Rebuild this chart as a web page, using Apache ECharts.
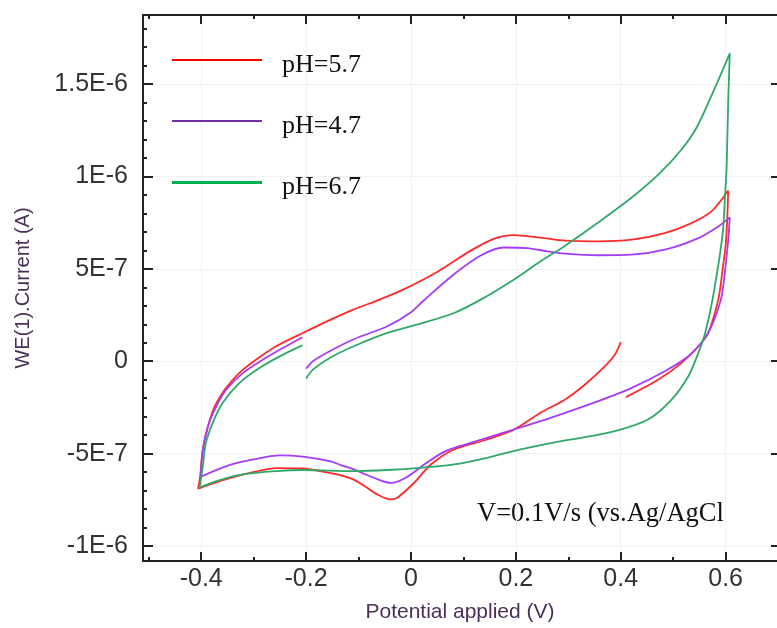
<!DOCTYPE html>
<html>
<head>
<meta charset="utf-8">
<script src="https://cdn.jsdelivr.net/npm/echarts@6/dist/echarts.min.js"></script>
<style>html,body{margin:0;padding:0;background:#fff}#c{width:777px;height:628px}</style>
</head>
<body>
<div id="c"></div>
<script>
// ---- data (potential in V, current in microampere = 1E-6 A) ----
const seriesNames = ['pH=5.7', 'pH=4.7', 'pH=6.7'];

const ph57_V = [0.400, 0.389, 0.370, 0.332, 0.294, 0.247, 0.196, 0.145, 0.082, 0.038, 0.006, -0.026, -0.039, -0.064, -0.090, -0.109, -0.135, -0.155, -0.206, -0.257, -0.301, -0.352, -0.406,
  -0.402, -0.397, -0.387, -0.374, -0.355, -0.327, -0.295, -0.257, -0.206, -0.155, -0.109, -0.060, -0.013, 0.050, 0.114, 0.158, 0.196, 0.247, 0.294, 0.357, 0.421, 0.484, 0.535, 0.573, 0.605,
  0.601, 0.594, 0.586, 0.567, 0.554, 0.516, 0.472, 0.410];
const ph57_I = [0.103, 0.036, -0.027, -0.126, -0.207, -0.279, -0.370, -0.423, -0.477, -0.558, -0.657, -0.738, -0.747, -0.720, -0.672, -0.640, -0.616, -0.604, -0.580, -0.578, -0.600, -0.638, -0.689,
  -0.621, -0.477, -0.351, -0.243, -0.153, -0.063, 0.009, 0.081, 0.153, 0.222, 0.280, 0.333, 0.390, 0.483, 0.598, 0.662, 0.682, 0.668, 0.652, 0.648, 0.657, 0.693, 0.747, 0.810, 0.923,
  0.657, 0.490, 0.333, 0.153, 0.100, -0.009, -0.099, -0.194];

const ph47_V = [-0.200, -0.187, -0.155, -0.109, -0.045, 0.000, 0.025, 0.082, 0.133, 0.177, 0.222, 0.260, 0.294, 0.357, 0.421, 0.484, 0.548, 0.586, 0.608,
  0.605, 0.597, 0.591, 0.573, 0.554, 0.529, 0.484, 0.421, 0.357, 0.294, 0.247, 0.196, 0.145, 0.093, 0.063, 0.030, -0.010, -0.038, -0.071, -0.109, -0.135, -0.155, -0.206, -0.250, -0.301, -0.352, -0.401,
  -0.397, -0.387, -0.371, -0.352, -0.320, -0.282, -0.244, -0.207];
const ph47_I = [-0.041, 0.000, 0.054, 0.119, 0.189, 0.265, 0.330, 0.470, 0.572, 0.615, 0.612, 0.594, 0.582, 0.573, 0.576, 0.603, 0.666, 0.729, 0.778,
  0.657, 0.441, 0.333, 0.189, 0.100, 0.027, -0.054, -0.144, -0.216, -0.279, -0.324, -0.369, -0.414, -0.459, -0.490, -0.549, -0.630, -0.658, -0.630, -0.585, -0.560, -0.540, -0.516, -0.509, -0.531, -0.567, -0.625,
  -0.480, -0.350, -0.243, -0.153, -0.063, 0.009, 0.072, 0.130];

const ph67_V = [-0.200, -0.187, -0.155, -0.109, -0.045, 0.018, 0.082, 0.133, 0.196, 0.247, 0.294, 0.357, 0.421, 0.472, 0.516, 0.545, 0.576, 0.608,
  0.605, 0.602, 0.599, 0.594, 0.575, 0.561, 0.548, 0.529, 0.497, 0.452, 0.389, 0.325, 0.294, 0.209, 0.145, 0.082, 0.018, -0.045, -0.109, -0.206, -0.257, -0.320, -0.371, -0.403,
  -0.397, -0.391, -0.378, -0.359, -0.327, -0.289, -0.244, -0.207];
const ph67_I = [-0.093, -0.045, 0.018, 0.081, 0.153, 0.203, 0.261, 0.333, 0.441, 0.540, 0.625, 0.750, 0.885, 1.010, 1.145, 1.265, 1.455, 1.665,
  1.413, 1.053, 0.900, 0.680, 0.333, 0.153, 0.045, -0.081, -0.207, -0.315, -0.378, -0.414, -0.428, -0.477, -0.522, -0.558, -0.576, -0.588, -0.594, -0.588, -0.594, -0.612, -0.648, -0.684,
  -0.567, -0.441, -0.333, -0.225, -0.117, -0.036, 0.036, 0.086];

// ---- axes ----
const xMin = -0.511, xMax = 0.698;
const yMin = -1.080, yMax = 1.872;
const xMajorTicks = [-0.4, -0.2, 0, 0.2, 0.4, 0.6];
const xMajorLabels = ['-0.4', '-0.2', '0', '0.2', '0.4', '0.6'];
const xMinorTicks = [-0.5, -0.3, -0.1, 0.1, 0.3, 0.5];
const yMajorTicks = [-1, -0.5, 0, 0.5, 1, 1.5];
const yMajorLabels = ['-1E-6', '-5E-7', '0', '5E-7', '1E-6', '1.5E-6'];
const yMinorTicks = [-0.9, -0.8, -0.7, -0.6, -0.4, -0.3, -0.2, -0.1, 0.1, 0.2, 0.3, 0.4, 0.6, 0.7, 0.8, 0.9, 1.1, 1.2, 1.3, 1.4, 1.6, 1.7, 1.8];

const lineColors = ['#ff2a2a', '#a53cf5', '#2fa86a'];
const legendColors = ['#ff0000', '#7030a0', '#00b050'];
// legend swatch: a line at the top of a 90x12 box, so the label sits a little below it
const legendIcons = [
  'path://M0,0L90,0L90,2L0,2Z M0,12L0.01,12',
  'path://M0,0L90,0L90,2L0,2Z M0,12L0.01,12',
  'path://M0,0L90,0L90,3L0,3Z M0,12L0.01,12'
];

function pairs(xs, ys) { return xs.map((x, i) => [x, ys[i]]); }
function lookup(vals, labels) {
  return function (v) {
    for (let i = 0; i < vals.length; i++) if (Math.abs(vals[i] - v) < 1e-6) return labels[i];
    return '';
  };
}

const frame = { color: '#222', width: 2 };
const sans = 'Liberation Sans, Arial, sans-serif';
const serif = 'Liberation Serif, Times New Roman, serif';

const chart = echarts.init(document.getElementById('c'), null, { renderer: 'canvas' });
chart.setOption({
  animation: false,
  backgroundColor: '#fff',
  grid: { left: 143, right: 0, top: 15, bottom: 66, containLabel: false },
  legend: {
    orient: 'vertical', left: 172, top: 50, padding: 0,
    itemWidth: 90, itemHeight: 12, itemGap: 31, symbolKeepAspect: false,
    textStyle: { fontFamily: serif, fontSize: 26, color: '#111', lineHeight: 30, padding: [0, 0, 0, 15] },
    data: seriesNames.map((n, i) => ({ name: n, icon: legendIcons[i], itemStyle: { color: legendColors[i] } }))
  },
  xAxis: [
    { type: 'value', position: 'bottom', min: xMin, max: xMax,
      axisLine: { show: true, onZero: false, lineStyle: frame },
      axisTick: { show: true, inside: true, length: 9, customValues: xMajorTicks, lineStyle: frame },
      axisLabel: { show: true, customValues: xMajorTicks, formatter: lookup(xMajorTicks, xMajorLabels), fontFamily: sans, fontSize: 25, color: '#333', margin: 6 },
      splitLine: { show: true, lineStyle: { color: '#f1f1f1', width: 1 } },
      name: 'Potential applied (V)', nameLocation: 'middle', nameGap: 41,
      nameTextStyle: { fontFamily: sans, fontSize: 21, color: '#4a3058' } },
    { type: 'value', position: 'top', min: xMin, max: xMax,
      axisLine: { show: true, onZero: false, lineStyle: frame },
      axisTick: { show: true, inside: true, length: 9, customValues: xMajorTicks, lineStyle: frame },
      axisLabel: { show: false }, splitLine: { show: false } },
    { type: 'value', position: 'bottom', min: xMin, max: xMax,
      axisLine: { show: false, onZero: false },
      axisTick: { show: true, inside: true, length: 4, customValues: xMinorTicks, lineStyle: frame },
      axisLabel: { show: false }, splitLine: { show: false } },
    { type: 'value', position: 'top', min: xMin, max: xMax,
      axisLine: { show: false, onZero: false },
      axisTick: { show: true, inside: true, length: 4, customValues: xMinorTicks, lineStyle: frame },
      axisLabel: { show: false }, splitLine: { show: false } }
  ],
  yAxis: [
    { type: 'value', position: 'left', min: yMin, max: yMax,
      axisLine: { show: true, onZero: false, lineStyle: frame },
      axisTick: { show: true, inside: true, length: 10, customValues: yMajorTicks, lineStyle: frame },
      axisLabel: { show: true, customValues: yMajorTicks, formatter: lookup(yMajorTicks, yMajorLabels), fontFamily: sans, fontSize: 25, color: '#333', margin: 15 },
      splitLine: { show: true, lineStyle: { color: '#f1f1f1', width: 1 } },
      name: 'WE(1).Current (A)', nameLocation: 'middle', nameGap: 110,
      nameTextStyle: { fontFamily: sans, fontSize: 20, color: '#4a3058' } },
    { type: 'value', position: 'left', min: yMin, max: yMax,
      axisLine: { show: false, onZero: false },
      axisTick: { show: true, inside: true, length: 4, customValues: yMinorTicks, lineStyle: frame },
      axisLabel: { show: false }, splitLine: { show: false } },
    { type: 'value', position: 'right', min: yMin, max: yMax,
      axisLine: { show: false, onZero: false },
      axisTick: { show: true, inside: true, length: 6, customValues: yMajorTicks, lineStyle: frame },
      axisLabel: { show: false }, splitLine: { show: false } }
  ],
  graphic: [
    { type: 'text', left: 477, top: 501, style: { text: 'V=0.1V/s (vs.Ag/AgCl', font: '26.5px ' + serif, fill: '#111' } }
  ],
  series: [
    { name: seriesNames[0], type: 'line', data: pairs(ph57_V, ph57_I) },
    { name: seriesNames[1], type: 'line', data: pairs(ph47_V, ph47_I) },
    { name: seriesNames[2], type: 'line', data: pairs(ph67_V, ph67_I) }
  ].map((s, i) => Object.assign(s, {
    xAxisIndex: 0, yAxisIndex: 0, showSymbol: false, smooth: 0.3,
    color: lineColors[i], lineStyle: { color: lineColors[i], width: 1.8 }
  }))
});
</script>
</body>
</html>
